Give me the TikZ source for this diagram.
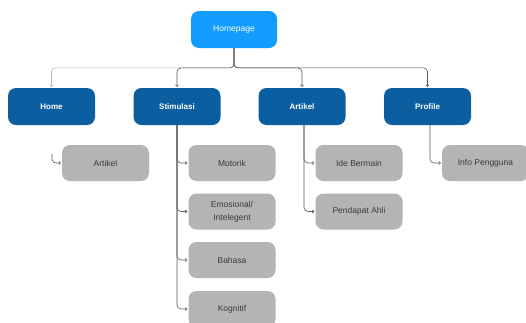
\documentclass[tikz,border=0pt]{standalone}
\usepackage{fontspec}
\setmainfont{Liberation Sans}
\usetikzlibrary{arrows.meta}
\definecolor{topblue}{HTML}{129CFD}
\definecolor{midblue}{HTML}{0B5FA1}
\definecolor{boxgray}{HTML}{B4B4B4}
\definecolor{txtgray}{HTML}{3A3A3A}
\definecolor{linegray}{HTML}{5A5A5A}
\definecolor{faintgray}{HTML}{B8B8B8}
\begin{document}
\begin{tikzpicture}[x=1pt,y=1pt,
  topbox/.style={fill=topblue,rounded corners=8pt,minimum width=86pt,minimum height=37pt,inner sep=0pt,text=white,font=\fontsize{8.5}{10}\selectfont},
  midbox/.style={fill=midblue,rounded corners=8pt,minimum width=87pt,minimum height=37pt,inner sep=0pt,text=white,font=\fontsize{8}{10}\selectfont\bfseries},
  leafbox/.style={fill=boxgray,rounded corners=8pt,minimum width=87pt,minimum height=36pt,inner sep=0pt,text=txtgray,align=center,font=\fontsize{8.5}{13}\selectfont},
  conn/.style={draw=linegray,line width=0.6pt,rounded corners=4pt,-{To[length=2.2pt,width=3.5pt]},shorten >=1pt},
  faintconn/.style={conn,draw=faintgray}]
\clip (0,0) rectangle (526,-322);
\fill[white] (0,0) rectangle (526,-322);
\node[topbox] (hp) at (234,-29.5) {Homepage};
\node[midbox] (home) at (51.5,-106.5) {Home};
\node[midbox] (stim) at (177,-106.5) {Stimulasi};
\node[midbox] (art) at (302,-106.5) {Artikel};
\node[midbox] (prof) at (427.5,-106.5) {Profile};
\node[leafbox] (art2) at (105.5,-163) {Artikel};
\node[leafbox] (mot) at (232,-163) {Motorik};
\node[leafbox] (emo) at (232,-211.5) {Emosional/\\Intelegent};
\node[leafbox] (bah) at (232,-260) {Bahasa};
\node[leafbox] (kog) at (232,-309) {Kognitif};
\node[leafbox] (ide) at (359,-163) {Ide Bermain};
\node[leafbox] (pen) at (359,-211.5) {Pendapat Ahli};
\node[leafbox] (info) at (485.5,-163) {Info Pengguna};
\coordinate (hook) at (52,-154);
% top level
\draw[faintconn] (hp.south) -- ++(0,-19.7) -| (home.north);
\draw[conn] (hp.south) -- ++(0,-19.7) -| (stim.north);
\draw[conn] (hp.south) -- ++(0,-19.7) -| (art.north);
\draw[conn] (hp.south) -- ++(0,-19.7) -| (prof.north);
% children
\draw[conn] (hook) |- (art2.west);
\draw[conn] (stim.south) |- (mot.west);
\draw[conn] (stim.south) |- (emo.west);
\draw[conn] (stim.south) |- (bah.west);
\draw[conn] (stim.south) |- (kog.west);
\draw[conn] ([xshift=2pt]art.south) |- (ide.west);
\draw[conn] ([xshift=2pt]art.south) |- (pen.west);
\draw[conn] ([xshift=2.5pt]prof.south) |- (info.west);
\end{tikzpicture}
\end{document}
